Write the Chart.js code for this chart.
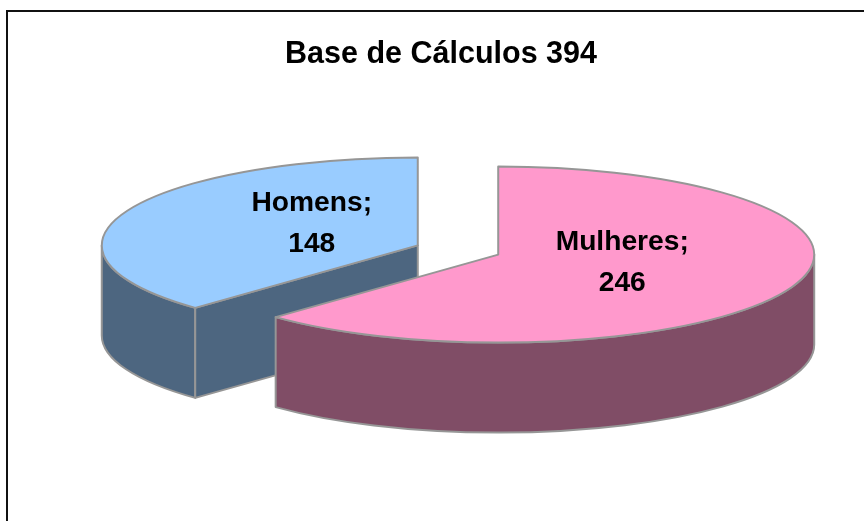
<!DOCTYPE html>
<html lang="pt-br">

<head>
  <meta charset="UTF-8">
  <title>Base de Cálculos 394</title>
  <style>
    html, body { margin: 0; padding: 0; background: #fff; overflow: hidden; }
    .moldura {
      position: absolute;
      left: 6px;
      top: 10px;
      width: 900px;
      height: 560px;
      border-left: 2px solid #111;
      border-top: 2px solid #111;
      overflow: hidden;
    }
  </style>
</head>

<body>
  <div class="moldura">
    <canvas id="grafico" width="866" height="509"></canvas>
  </div>

  <script src="https://cdn.jsdelivr.net/npm/chart.js"></script>
  <script>
    const categorias = ['Mulheres', 'Homens'];
    const valores = [246, 148];
    const coresTopo = ['#FF99CC', '#99CCFF'];
    const coresLateral = ['#804D66', '#4D6680'];
    const titulo = 'Base de Cálculos 394';

    const corBorda = '#969696';
    const fonte = 'Arial, "Liberation Sans", sans-serif';

    // centro da pizza, raio e perspectiva
    const centroX = 450;
    const centroY = 238;
    const raio = 316;
    const achatar = 0.2785;
    const profundidade = 90;
    const explodir = 43.5;

    // posicao dos rotulos em relacao ao vertice de cada fatia
    const deslocRotulos = [[124, 8], [-106, -22]];

    function vertice(arc) {
      return { x: arc.x, y: centroY + (arc.y - centroY) * achatar };
    }

    function desenharLateral(ctx, arc, cor) {
      const v = vertice(arc);
      const ry = raio * achatar;
      const a0 = Math.max(arc.startAngle, 0);
      const a1 = Math.min(arc.endAngle, Math.PI);

      ctx.fillStyle = cor;
      ctx.strokeStyle = corBorda;
      ctx.lineWidth = 2;
      ctx.lineJoin = 'round';

      // parede da borda curva
      if (a1 > a0) {
        ctx.beginPath();
        ctx.ellipse(v.x, v.y, raio, ry, 0, a0, a1);
        ctx.ellipse(v.x, v.y + profundidade, raio, ry, 0, a1, a0, true);
        ctx.closePath();
        ctx.fill();
        ctx.stroke();
      }

      // paredes dos cortes, so as que ficam viradas para baixo
      [[arc.startAngle, -1], [arc.endAngle, 1]].forEach(([a, lado]) => {
        if (Math.sin(a + lado * Math.PI / 2) > 0.01) {
          const px = v.x + Math.cos(a) * raio;
          const py = v.y + Math.sin(a) * ry;
          ctx.beginPath();
          ctx.moveTo(v.x, v.y);
          ctx.lineTo(px, py);
          ctx.lineTo(px, py + profundidade);
          ctx.lineTo(v.x, v.y + profundidade);
          ctx.closePath();
          ctx.fill();
          ctx.stroke();
        }
      });
    }

    const pizza3d = {
      id: 'pizza3d',
      afterDatasetsUpdate(chart) {
        chart.getDatasetMeta(0).data.forEach((arc) => {
          const meio = (arc.startAngle + arc.endAngle) / 2;
          arc.x = centroX + Math.cos(meio) * explodir;
          arc.y = centroY + Math.sin(meio) * explodir;
        });
      },
      beforeDatasetDraw(chart) {
        const ctx = chart.ctx;
        const arcos = chart.getDatasetMeta(0).data;
        ctx.save();
        for (let i = arcos.length - 1; i >= 0; i--) {
          desenharLateral(ctx, arcos[i], coresLateral[i]);
        }
        ctx.restore();

        // o topo e o proprio arco do Chart.js, achatado
        ctx.save();
        ctx.translate(0, centroY);
        ctx.scale(1, achatar);
        ctx.translate(0, -centroY);
      },
      afterDatasetDraw(chart) {
        const ctx = chart.ctx;
        ctx.restore();

        ctx.save();
        ctx.strokeStyle = corBorda;
        ctx.lineWidth = 2;
        ctx.lineJoin = 'round';
        chart.getDatasetMeta(0).data.forEach((arc) => {
          const v = vertice(arc);
          ctx.beginPath();
          ctx.moveTo(v.x, v.y);
          ctx.ellipse(v.x, v.y, raio, raio * achatar, 0, arc.startAngle, arc.endAngle);
          ctx.closePath();
          ctx.stroke();
        });

        ctx.fillStyle = '#000';
        ctx.font = 'bold 28.2px ' + fonte;
        ctx.textAlign = 'center';
        ctx.textBaseline = 'middle';
        chart.getDatasetMeta(0).data.forEach((arc, i) => {
          const v = vertice(arc);
          const lx = v.x + deslocRotulos[i][0];
          const ly = v.y + deslocRotulos[i][1];
          ctx.fillText(categorias[i] + ';', lx, ly - 20.5);
          ctx.fillText(String(valores[i]), lx, ly + 20.5);
        });
        ctx.restore();
      }
    };

    new Chart(document.getElementById('grafico'), {
      type: 'pie',
      data: {
        labels: categorias,
        datasets: [{
          data: valores,
          backgroundColor: coresTopo,
          borderWidth: 0,
          clip: false
        }]
      },
      options: {
        responsive: false,
        animation: false,
        events: [],
        radius: raio,
        plugins: {
          legend: { display: false },
          tooltip: { enabled: false },
          title: {
            display: true,
            text: titulo,
            color: '#000',
            font: { family: fonte, size: 30.5, weight: 'bold' },
            padding: { top: 24, bottom: 0 }
          }
        }
      },
      plugins: [pizza3d]
    });
  </script>
</body>

</html>
